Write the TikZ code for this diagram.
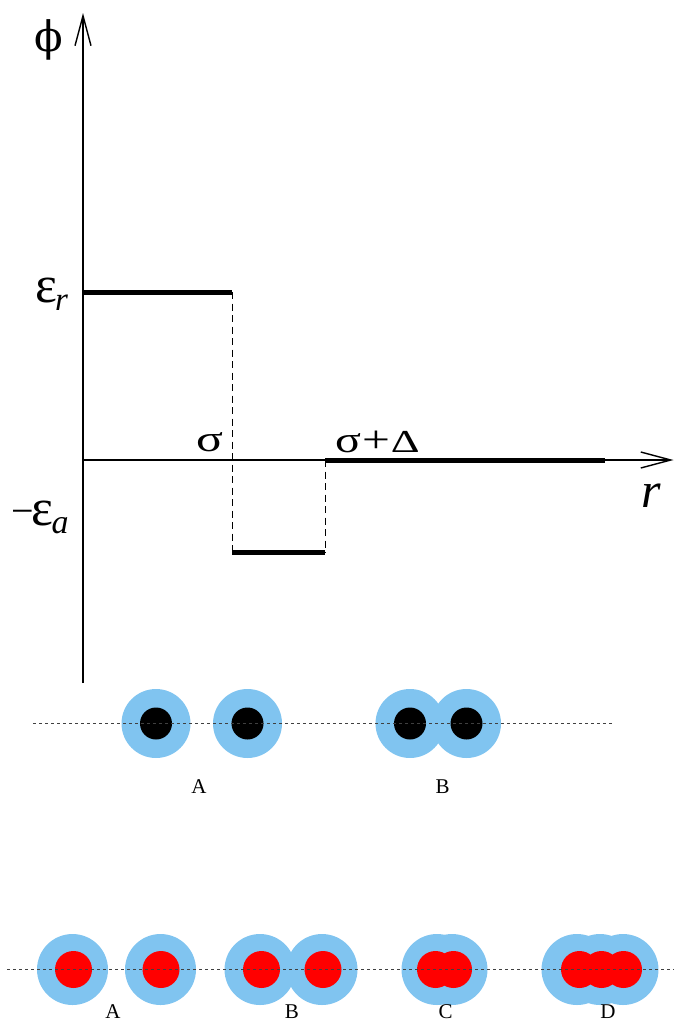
\documentclass[tikz,border=0pt]{standalone}
\usepackage{fontspec}
\setmainfont{Liberation Serif}
\newfontfamily\phifont{DejaVu Serif}
\usetikzlibrary{arrows.meta}
\definecolor{halo}{RGB}{128,196,240}
\definecolor{corered}{RGB}{255,0,0}
\newcommand\fsz[1]{\fontsize{#1}{#1}\selectfont}
\begin{document}
\begin{tikzpicture}[x=1pt,y=-1pt,
  axisline/.style={line width=1.5pt},
  barbtip/.style={-{Straight Barb[length=30pt,width=16pt,line width=1.4pt]}},
  levelline/.style={line width=5pt},
  guideline/.style={line width=0.9pt, dash pattern=on 7pt off 4.5pt},
  trackline/.style={line width=1pt, dash pattern=on 3pt off 3pt, black!75},
  halonode/.style={circle, fill=halo, minimum size=69pt, inner sep=0pt, draw=none},
  halotwo/.style={circle, fill=halo, minimum size=71pt, inner sep=0pt, draw=none},
  blackcore/.style={circle, fill=black, minimum size=32pt, inner sep=0pt, draw=none},
  redcore/.style={circle, fill=corered, minimum size=37pt, inner sep=0pt, draw=none},
  tag/.style={inner sep=0pt, anchor=base, font=\fsz{21}},
  glyph/.style={inner sep=0pt}
]
\useasboundingbox (0,0) rectangle (674,1023);

% ---------- plot ----------
\coordinate (origin) at (83,460);
\coordinate (ybot) at (83,683);
\coordinate (ytop) at (83,13);
\coordinate (xend) at (673.5,460);
\coordinate (er0) at (83,292);
\coordinate (er1) at (232,292);
\coordinate (ea0) at (232,552.5);
\coordinate (ea1) at (325,552.5);
\coordinate (sd0) at (325,460);
\coordinate (sd1) at (605,460);

\draw[axisline,barbtip] (ybot) -- (ytop);
\draw[axisline,barbtip] (origin) -- (xend);
\draw[levelline] (er0) -- (er1);
\draw[guideline] (er1) -- (ea0);
\draw[levelline] (ea0) -- (ea1);
\draw[guideline] (sd0) -- (ea1);
\draw[levelline] (sd0) -- (sd1);

\node[glyph] (phi) at (48.5,40) {\phifont\fsz{42}ϕ};
\node[glyph, anchor=base west] (epsr) at (35,302)
  {\fsz{52}ε\kern-2pt\raisebox{-8pt}{\fsz{33}\itshape r}};
\node[glyph, anchor=base west] (epsa) at (11,525)
  {\raisebox{1pt}{\fsz{40}−}\kern-2pt{\fsz{52}ε}\kern-2pt\raisebox{-8pt}{\fsz{34}\itshape a}};
\node[glyph] (sig) at (209.5,442.5) {\scalebox{1.35}[1]{\fsz{37}σ}};
\node[glyph, anchor=base west] (sigdel) at (335,452)
  {\scalebox{1.3}[1]{\fsz{37}σ}\kern1pt\scalebox{1.3}[1]{\fsz{38}+}\kern1pt\scalebox{1.4}[1]{\fsz{32}Δ}};
\node[glyph] (rlab) at (651.5,495.5) {\fsz{50}\itshape r};

% ---------- upper row ----------
\node[halonode] (hA1) at (156,723.5) {};
\node[halonode] (hA2) at (247.5,723.5) {};
\node[halonode] (hB1) at (410,723.5) {};
\node[halonode] (hB2) at (466.5,723.5) {};
\node[blackcore] (cA1) at (156,723.5) {};
\node[blackcore] (cA2) at (247.5,723.5) {};
\node[blackcore] (cB1) at (410,723.5) {};
\node[blackcore] (cB2) at (466.5,723.5) {};
\coordinate (t1a) at (33,723.5);
\coordinate (t1b) at (612,723.5);
\draw[trackline] (t1a) -- (t1b);
\node[tag] (lA1) at (199,793) {A};
\node[tag] (lB1) at (442.5,793) {B};

% ---------- lower row ----------
\foreach \n/\x in {a1/72.5, a2/160.5, b1/260, b2/322, c1/437, c2/452, d1/577, d2/600, d3/623}
  \node[halotwo] (h\n) at (\x,969.5) {};
\foreach \n/\x in {a1/73.5, a2/161, b1/261.5, b2/323, c1/435.5, c2/453.5, d1/579.5, d2/601.5, d3/623.5}
  \node[redcore] (r\n) at (\x,969.5) {};
\coordinate (t2a) at (7,969.5);
\coordinate (t2b) at (674,969.5);
\draw[trackline] (t2a) -- (t2b);
\node[tag] (lA2) at (113,1018) {A};
\node[tag] (lB2) at (292,1018) {B};
\node[tag] (lC2) at (445.5,1018) {C};
\node[tag] (lD2) at (608,1018) {D};
\end{tikzpicture}
\end{document}
